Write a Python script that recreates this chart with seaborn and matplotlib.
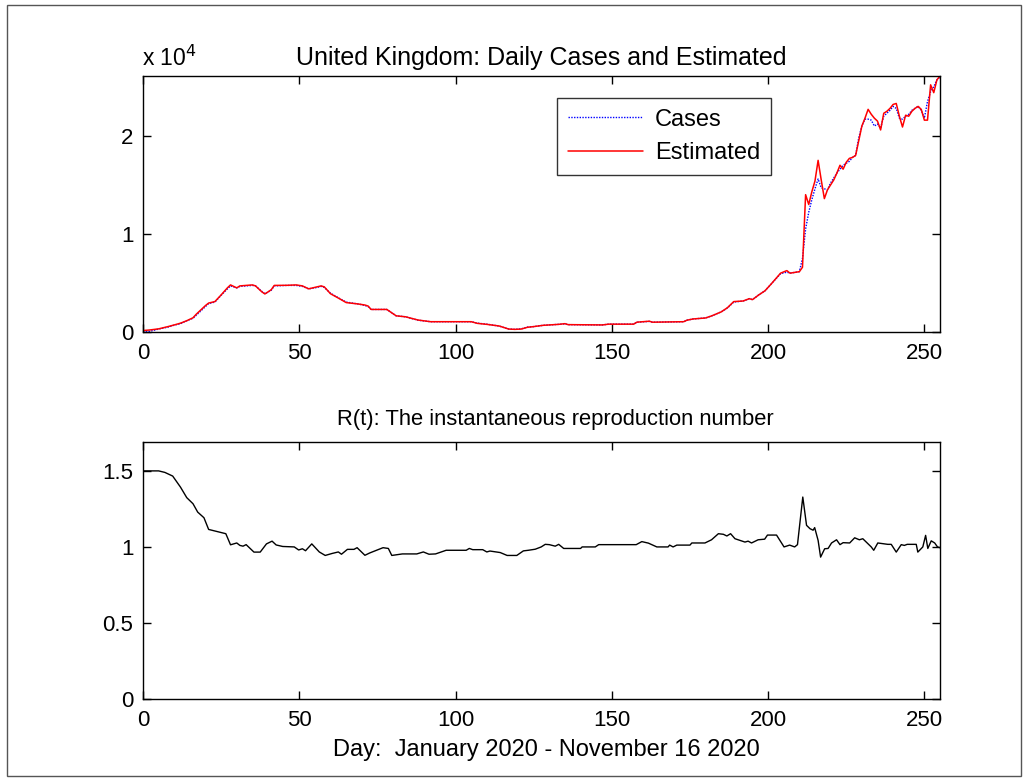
import numpy as np
import pandas as pd
import matplotlib
matplotlib.use("Agg")
import matplotlib.pyplot as plt
from matplotlib.patches import Rectangle
import seaborn as sns

# ---- Daily cases and model estimate (United Kingdom) ----
days = [0, 2, 5, 8, 10, 12, 14, 16, 17, 20, 21, 23, 25, 27, 28, 30, 31, 35, 36, 38,
        39, 41, 42, 46, 49, 51, 53, 55, 57, 58, 60, 63, 65, 69, 71, 72, 73, 78, 81, 84,
        88, 92, 105, 107, 110, 114, 117, 119, 121, 123, 125, 128, 133, 135, 136, 147, 149, 157, 158, 162,
        163, 173, 174, 176, 180, 182, 185, 187, 189, 192, 194, 195, 197, 199, 201, 204, 206, 207, 210, 211,
        212, 213, 214, 215, 216, 217, 218, 219, 220, 221, 222, 223, 224, 225, 226, 227, 228, 229, 230, 231,
        232, 233, 234, 235, 236, 237, 238, 239, 240, 241, 242, 243, 244, 245, 246, 247, 248, 249, 250, 251,
        252, 253, 254, 255]

cases = [100, 50, 300, 500, 700, 850, 1150, 1400, 1700, 2600, 2900, 3050, 3750, 4400, 4700, 4500, 4650, 4750, 4700, 4150,
         3900, 4250, 4700, 4750, 4750, 4650, 4400, 4500, 4650, 4550, 3950, 3400, 3050, 2850, 2700, 2600, 2300, 2300, 1650, 1550,
         1200, 1050, 1050, 900, 800, 600, 300, 270, 320, 500, 550, 680, 780, 830, 750, 720, 800, 800, 1000, 1080,
         1000, 1050, 1200, 1330, 1430, 1650, 2050, 2450, 3050, 3160, 3400, 3300, 3780, 4200, 4900, 5950, 6100, 6000, 6150, 7500,
         10500, 12200, 13500, 14600, 15600, 14700, 14600, 14500, 15200, 15700, 16200, 16600, 17000, 17200, 17400, 17800, 18000, 19800, 21000, 21700,
         21700, 21600, 21000, 21200, 20800, 22000, 22300, 22600, 23000, 22800, 21800, 21700, 22000, 22200, 22600, 22800, 23000, 22600, 21800, 23500,
         24500, 25000, 25700, 26000]

estimated = [150, 200, 320, 550, 720, 900, 1150, 1450, 1800, 2700, 2950, 3100, 3780, 4500, 4800, 4500, 4700, 4800, 4700, 4100,
             3880, 4300, 4750, 4760, 4800, 4700, 4400, 4550, 4700, 4600, 3900, 3370, 3000, 2850, 2750, 2650, 2300, 2300, 1650, 1550,
             1220, 1050, 1050, 880, 780, 610, 300, 270, 300, 480, 550, 680, 780, 850, 750, 720, 800, 800, 1000, 1100,
             1000, 1050, 1200, 1330, 1430, 1650, 2050, 2480, 3100, 3160, 3400, 3300, 3780, 4200, 4900, 6000, 6260, 6000, 6150, 6600,
             14000, 13000, 14300, 15400, 17500, 15500, 13600, 14500, 15000, 15500, 16200, 17000, 16600, 17300, 17700, 17800, 18000, 19500, 21000, 21800,
             22700, 22200, 21800, 21500, 20600, 22300, 22500, 22800, 23200, 23300, 22000, 20900, 22100, 22000, 22500, 22800, 23000, 22700, 21600, 21600,
             25200, 24400, 25700, 26100]

# ---- Instantaneous reproduction number R(t) ----
r_days = [0, 5, 7, 9.5, 12, 14, 16, 17.5, 19.5, 21, 24.5, 26.5, 28, 30, 31, 32, 33, 35.5, 37.5, 39.5,
          41.3, 42.6, 44.7, 48.4, 49.8, 51, 52, 54, 56.4, 58.3, 60.5, 62.5, 63.5, 65.4, 67.5, 68.5, 71, 72.5, 76.8, 78.5,
          79.6, 83, 87.6, 89.7, 91.5, 93.6, 95.4, 97, 103.4, 104.4, 105.5, 108.7, 110, 111, 114.3, 116.5, 119.6, 121.7, 123.3, 125.5,
          127.4, 128.7, 130, 131.9, 133, 134.6, 140, 140.5, 144.7, 145.8, 157.8, 159.6, 161.7, 164.4, 168, 168.5, 169.6, 170.8, 175, 175.6,
          179.8, 181.9, 184.1, 185.7, 186.8, 188, 189.4, 192.6, 193.6, 194.7, 196.8, 198.9, 199.8, 202.7, 205.1, 206.9, 208.5, 209.4, 211.1, 212.3,
          213.4, 214.4, 214.9, 216, 216.8, 218.1, 219.2, 220.3, 221.9, 223, 224, 226.1, 227.7, 229.2, 230.3, 233, 233.8, 235.1, 238.3, 239.4,
          241, 242.6, 243.6, 244.5, 247.4, 247.9, 249.5, 250.4, 251.1, 252.2, 253.3, 254.2, 255]

r_values = [1.50, 1.50, 1.49, 1.466, 1.393, 1.324, 1.284, 1.229, 1.192, 1.115, 1.097, 1.087, 1.014, 1.026, 1.01, 1.005, 1.015, 0.966, 0.966, 1.02,
            1.038, 1.013, 1.003, 1.0, 0.98, 0.988, 0.975, 1.02, 0.967, 0.944, 0.957, 0.967, 0.952, 0.984, 0.984, 0.995, 0.945, 0.96, 0.995, 0.99,
            0.944, 0.954, 0.954, 0.967, 0.952, 0.954, 0.967, 0.978, 0.978, 0.99, 0.982, 0.982, 0.967, 0.973, 0.963, 0.944, 0.944, 0.974, 0.978, 0.985,
            1.0, 1.017, 1.015, 1.005, 1.017, 0.99, 0.99, 1.0, 1.0, 1.015, 1.015, 1.035, 1.025, 1.0, 1.0, 1.012, 1.0, 1.012, 1.012, 1.026,
            1.026, 1.047, 1.087, 1.083, 1.072, 1.087, 1.054, 1.032, 1.038, 1.026, 1.047, 1.051, 1.078, 1.078, 1.0, 1.012, 1.0, 1.015, 1.328, 1.142,
            1.12, 1.11, 1.127, 1.043, 0.933, 0.988, 0.99, 1.026, 1.047, 1.015, 1.028, 1.026, 1.06, 1.047, 1.054, 1.0, 0.978, 1.026, 1.017, 1.017,
            0.966, 1.015, 1.01, 1.017, 1.017, 0.966, 1.0, 1.076, 0.99, 1.04, 1.026, 1.0, 0.995]

x_ticks = [0, 50, 100, 150, 200, 250]
top_yticks = [0, 10000, 20000]
top_yticklabels = ["0", "1", "2"]
bottom_yticks = [0, 0.5, 1, 1.5]
bottom_yticklabels = ["0", "0.5", "1", "1.5"]

title_top = "United Kingdom: Daily Cases and Estimated"
title_bottom = "R(t): The instantaneous reproduction number"
x_label = "Day:  January 2020 - November 16 2020"

sns.set_theme(style="ticks")
plt.rcParams["font.family"] = ["Liberation Sans", "DejaVu Sans"]
plt.rcParams.update({
    "xtick.direction": "in", "ytick.direction": "in",
    "xtick.top": True, "ytick.right": True,
    "xtick.major.size": 5.5, "ytick.major.size": 5.5,
    "xtick.major.width": 1.0, "ytick.major.width": 1.0,
    "axes.linewidth": 1.0, "axes.edgecolor": "black",
    "axes.labelcolor": "black", "axes.titlecolor": "black",
    "xtick.color": "black", "ytick.color": "black",
    "xtick.labelcolor": "black", "ytick.labelcolor": "black",
    "text.color": "black",
})
FS_TICK = 16

df_top = pd.DataFrame({"day": days, "Cases": cases, "Estimated": estimated})
df_r = pd.DataFrame({"day": r_days, "R": r_values})

fig = plt.figure(figsize=(10.27, 7.8), dpi=100)
fig.patch.set_facecolor("white")
fig.add_artist(Rectangle((7 / 1027, 4 / 780), 1014 / 1027, 771 / 780,
                         transform=fig.transFigure, fill=False,
                         edgecolor="#555555", linewidth=1.0))

ax1 = fig.add_axes([143 / 1027, (780 - 332) / 780, 797 / 1027, 256 / 780])
ax2 = fig.add_axes([143 / 1027, (780 - 699) / 780, 797 / 1027, 257 / 780])

sns.lineplot(data=df_top, x="day", y="Cases", ax=ax1, color="blue",
             linestyle=(0, (1, 1)), linewidth=1.0, label="Cases", sort=False)
sns.lineplot(data=df_top, x="day", y="Estimated", ax=ax1, color="red",
             linewidth=1.1, label="Estimated", sort=False)
sns.lineplot(data=df_r, x="day", y="R", ax=ax2, color="black", linewidth=1.0, sort=False)

ax1.set_xlim(0, 255)
ax1.set_ylim(0, 26100)
ax1.set_yticks(top_yticks)
ax1.set_yticklabels(top_yticklabels)
ax2.set_xlim(0, 255)
ax2.set_ylim(0, 1.69)
ax2.set_yticks(bottom_yticks)
ax2.set_yticklabels(bottom_yticklabels)

for ax in (ax1, ax2):
    ax.set_xticks(x_ticks)
    ax.set_xticklabels([str(t) for t in x_ticks])
    ax.tick_params(labelsize=FS_TICK, pad=7)
    ax.tick_params(axis="x", pad=8)
    ax.set_xlabel("")
    ax.set_ylabel("")
    for s in ax.spines.values():
        s.set_visible(True)
        s.set_color("black")

ax1.set_title(title_top, fontsize=18, pad=8)
ax2.set_title(title_bottom, fontsize=15.8, pad=12, x=0.517)
ax2.set_xlabel(x_label, fontsize=17, labelpad=6, color="black")
ax2.xaxis.label.set_x(0.506)

fig.text(142 / 1027, 1 - 58 / 780, "x 10$^{4}$", fontsize=16.5, ha="left", va="center")

leg = ax1.legend(loc="upper left", bbox_to_anchor=(557 / 1027, 1 - 98 / 780),
                 bbox_transform=fig.transFigure, borderaxespad=0, fontsize=17,
                 frameon=True, fancybox=False, handlelength=3.2, handletextpad=0.5,
                 borderpad=0.45, labelspacing=0.5)
leg.get_frame().set_edgecolor("black")
leg.get_frame().set_linewidth(1.0)
for t in leg.get_texts():
    t.set_color("black")

fig.savefig("out.png", dpi=100, facecolor="white")
